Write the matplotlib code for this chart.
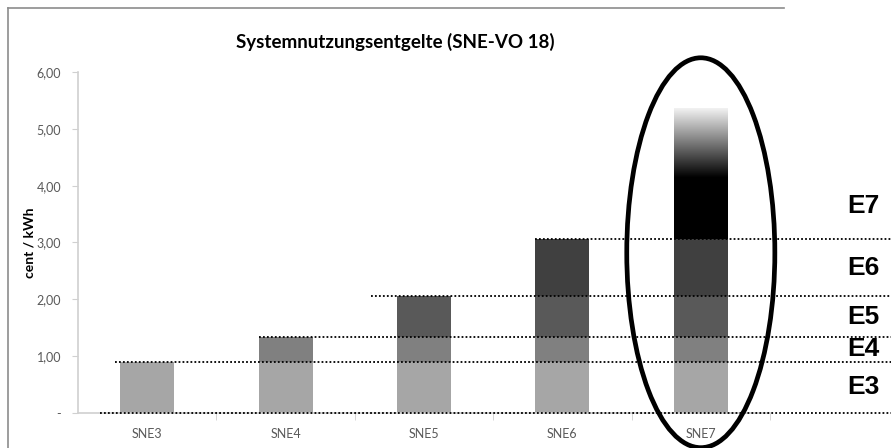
import matplotlib.pyplot as plt
import numpy as np
from matplotlib import colors
from matplotlib.patches import Ellipse
from matplotlib.lines import Line2D

# chart data (cent / kWh)
categories = ['SNE3', 'SNE4', 'SNE5', 'SNE6', 'SNE7']
levels = ['E3', 'E4', 'E5', 'E6', 'E7']
segments = [0.90, 0.44, 0.71, 1.02, 2.30]   # per network level
seg_colors = ['#a6a6a6', '#808080', '#595959', '#404040', '#000000']
y_ticks = [0, 1, 2, 3, 4, 5, 6]
y_ticklabels = ['-', '1,00', '2,00', '3,00', '4,00', '5,00', '6,00']
line_start = [-0.34, -0.23, 0.81, 1.62, 2.80]   # where dotted lines begin (x data)

tops = np.cumsum(segments)
bottoms = tops - np.array(segments)

fig = plt.figure(figsize=(8.91, 4.48), dpi=100)
ax = fig.add_axes([78 / 891, 35 / 448, 692 / 891, 341 / 448])

width = 0.39
x = np.arange(len(categories))
# stacked bars: category i holds levels E3..E(i+3)
for i in range(len(categories)):
    for k in range(i + 1):
        if k == 4:
            continue
        ax.bar(x[i], segments[k], width, bottom=bottoms[k], color=seg_colors[k],
               edgecolor='none', zorder=2)

# E7 segment drawn as a gradient (black -> near white at the top)
grad_cmap = colors.LinearSegmentedColormap.from_list(
    'e7', [(0, 'black'), (0.47, 'black'), (1.0, '#f2f2f2')])
grad = np.linspace(0, 1, 256).reshape(-1, 1)
ax.imshow(grad, cmap=grad_cmap, aspect='auto', origin='lower', interpolation='bilinear',
          extent=[x[4] - width / 2, x[4] + width / 2, bottoms[4], tops[4]], zorder=2)
ax.set_xlim(-0.5, 4.5)
ax.set_ylim(0, 6)

# axes styling
for s in ['top', 'right']:
    ax.spines[s].set_visible(False)
ax.spines['left'].set_color('#d0d0d0')
ax.spines['bottom'].set_color('#d0d0d0')
ax.spines['left'].set_linewidth(1.2)
ax.spines['bottom'].set_linewidth(1.2)
ax.set_yticks(y_ticks)
ax.set_yticklabels(y_ticklabels, fontsize=9, color='#595959', family='Lato')
ax.tick_params(axis='y', length=4, color='#d0d0d0', pad=8)
ax.set_xticks(x)
ax.set_xticklabels(categories, fontsize=9, color='#595959', family='Lato')
ax.tick_params(axis='x', length=0, pad=11)
ax.set_xticks(np.arange(0.5, 5, 1), minor=True)
ax.tick_params(axis='x', which='minor', length=5, color='#d0d0d0')
ax.set_ylabel('cent / kWh', fontsize=10, fontweight='bold', family='Lato')
ax.yaxis.set_label_coords(-0.061, 0.5)

# dotted level boundaries reaching out to the right edge
boundaries = [0.0] + list(tops[:4])
x_right = -0.5 + (891 - 78) / 138.4
for yb, xs in zip(boundaries, line_start):
    ax.plot([xs, x_right], [yb, yb], linestyle=(0, (1, 1.2)), color='black',
            linewidth=1.3, clip_on=False, zorder=4)

# level labels on the right
label_y = (bottoms + tops) / 2
label_y[4] = bottoms[4] + segments[4] / 4
for lab, yl in zip(levels, label_y):
    ax.text(1.112, yl, lab, transform=ax.get_yaxis_transform(), fontsize=19,
            fontweight='bold', family='Liberation Sans', va='center', ha='left')

# highlight ellipse around SNE7
ax.add_patch(Ellipse((x[4], 2.82), 1.07, 6.86, fill=False, edgecolor='black',
                     linewidth=3.4, clip_on=False, zorder=5))

# title and outer chart frame
fig.text(395 / 891, 1 - 42 / 448, 'Systemnutzungsentgelte (SNE-VO 18)', fontsize=13.5,
         fontweight='bold', family='Lato', ha='center', va='center')
fig.add_artist(Line2D([8 / 891, 784 / 891], [1 - 8 / 448, 1 - 8 / 448],
                      color='#8c8c8c', linewidth=1.2))
fig.add_artist(Line2D([8 / 891, 8 / 891], [0, 1 - 8 / 448], color='#8c8c8c',
                      linewidth=1.2))

fig.savefig('out.png', dpi=100)
